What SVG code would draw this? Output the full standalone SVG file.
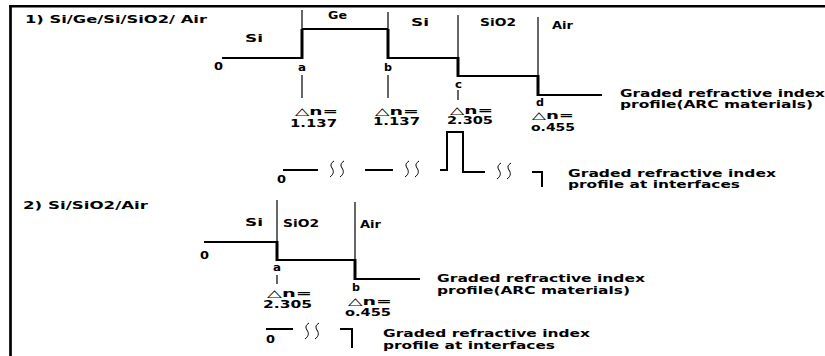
<svg xmlns="http://www.w3.org/2000/svg" width="825" height="356" viewBox="0 0 825 356">
<style>
text{font-family:"DejaVu Sans","Liberation Sans",sans-serif;font-weight:bold;font-size:10px;fill:#000}
.lv{stroke:#000;stroke-width:2;fill:none}
.th{stroke:#000;stroke-width:1.2;fill:none}
.tk{stroke:#000;stroke-width:3;fill:none}
.sq{stroke:#000;stroke-width:1;fill:none}
</style>
<defs>
<path id="sq" class="sq" d="M4 0 C1 2 0 4 2 7 C4 10 4 13 0 16"/>
</defs>
<rect x="0" y="0" width="825" height="356" fill="#fff"/>
<g id="frame">
<line x1="9" y1="6.2" x2="825" y2="6.2" stroke="#000" stroke-width="2.6"/>
<line x1="10.5" y1="5" x2="10.5" y2="356" stroke="#000" stroke-width="2.7"/>
</g>

<g id="profile1">
<text x="25" y="23" textLength="182" lengthAdjust="spacingAndGlyphs">1) Si/Ge/Si/SiO2/ Air</text>
<polyline class="lv" points="222,58 302,58"/>
<line class="th" x1="302" y1="10" x2="302" y2="29"/>
<line class="tk" x1="302" y1="29" x2="302" y2="59"/>
<polyline class="lv" points="302,29 388,29"/>
<line class="th" x1="388" y1="12" x2="388" y2="29"/>
<line class="tk" x1="388" y1="29" x2="388" y2="59"/>
<polyline class="lv" points="388,58 458,58"/>
<line class="th" x1="458" y1="15" x2="458" y2="58"/>
<line class="tk" x1="458" y1="57" x2="458" y2="77"/>
<polyline class="lv" points="458,76 538,76"/>
<line class="th" x1="538" y1="17" x2="538" y2="76"/>
<line class="tk" x1="538" y1="75" x2="538" y2="96"/>
<polyline class="lv" points="538,95 602,95"/>
<text x="245" y="42" textLength="18" lengthAdjust="spacingAndGlyphs">Si</text>
<text x="328" y="19" textLength="19" lengthAdjust="spacingAndGlyphs">Ge</text>
<text x="411" y="26" textLength="18" lengthAdjust="spacingAndGlyphs">Si</text>
<text x="480" y="26" textLength="36" lengthAdjust="spacingAndGlyphs">SiO2</text>
<text x="552" y="29" textLength="21" lengthAdjust="spacingAndGlyphs">Air</text>
<text x="214" y="70" textLength="9" lengthAdjust="spacingAndGlyphs">0</text>
<text x="298" y="71" textLength="8" lengthAdjust="spacingAndGlyphs">a</text>
<text x="384" y="71" textLength="8" lengthAdjust="spacingAndGlyphs">b</text>
<text x="455" y="88" textLength="7" lengthAdjust="spacingAndGlyphs">c</text>
<text x="536" y="106" textLength="8" lengthAdjust="spacingAndGlyphs">d</text>
<text x="295" y="115" textLength="43" lengthAdjust="spacingAndGlyphs">△n=</text>
<text x="290" y="127" textLength="47" lengthAdjust="spacingAndGlyphs">1.137</text>
<text x="375" y="115" textLength="44" lengthAdjust="spacingAndGlyphs">△n=</text>
<text x="373" y="125" textLength="47" lengthAdjust="spacingAndGlyphs">1.137</text>
<text x="450" y="114" textLength="43" lengthAdjust="spacingAndGlyphs">△n=</text>
<text x="447" y="124" textLength="46" lengthAdjust="spacingAndGlyphs">2.305</text>
<text x="532" y="119" textLength="42" lengthAdjust="spacingAndGlyphs">△n=</text>
<text x="531" y="131" textLength="44" lengthAdjust="spacingAndGlyphs">o.455</text>
<text x="620" y="97" textLength="205" lengthAdjust="spacingAndGlyphs">Graded refractive index</text>
<text x="620" y="108" textLength="193" lengthAdjust="spacingAndGlyphs">profile(ARC materials)</text>
</g>

<g id="interfaces1">
<text x="277" y="183" textLength="9" lengthAdjust="spacingAndGlyphs">0</text>
<line class="lv" x1="283" y1="170" x2="318" y2="170"/>
<use href="#sq" x="330" y="161"/>
<use href="#sq" x="340" y="161"/>
<line class="lv" x1="365" y1="170" x2="393" y2="170"/>
<use href="#sq" x="405" y="161"/>
<use href="#sq" x="415" y="161"/>
<polyline class="lv" points="440,170 447,170 447,132 463,132 463,172 485,172" stroke-width="2.5"/>
<use href="#sq" x="497" y="163"/>
<use href="#sq" x="507" y="163"/>
<polyline class="lv" points="532,172 542,172 542,187" stroke-width="2.5"/>
<text x="568" y="177" textLength="208" lengthAdjust="spacingAndGlyphs">Graded refractive index</text>
<text x="568" y="188" textLength="172" lengthAdjust="spacingAndGlyphs">profile at interfaces</text>
</g>

<g id="profile2">
<text x="23" y="209" textLength="125" lengthAdjust="spacingAndGlyphs">2) Si/SiO2/Air</text>
<line class="lv" x1="204" y1="242" x2="277" y2="242"/>
<line class="th" x1="277" y1="200" x2="277" y2="242"/>
<line class="tk" x1="277" y1="241" x2="277" y2="261"/>
<line class="lv" x1="277" y1="260" x2="355" y2="260"/>
<line class="th" x1="355" y1="202" x2="355" y2="260"/>
<line class="tk" x1="355" y1="259" x2="355" y2="280"/>
<line class="lv" x1="355" y1="279" x2="420" y2="279"/>
<text x="245" y="226" textLength="18" lengthAdjust="spacingAndGlyphs">Si</text>
<text x="283" y="227" textLength="36" lengthAdjust="spacingAndGlyphs">SiO2</text>
<text x="360" y="228" textLength="21" lengthAdjust="spacingAndGlyphs">Air</text>
<text x="200" y="259" textLength="9" lengthAdjust="spacingAndGlyphs">0</text>
<text x="273" y="271" textLength="8" lengthAdjust="spacingAndGlyphs">a</text>
<text x="352" y="291" textLength="8" lengthAdjust="spacingAndGlyphs">b</text>
<text x="267" y="297" textLength="45" lengthAdjust="spacingAndGlyphs">△n=</text>
<text x="263" y="308" textLength="49" lengthAdjust="spacingAndGlyphs">2.305</text>
<text x="348" y="305" textLength="44" lengthAdjust="spacingAndGlyphs">△n=</text>
<text x="345" y="316" textLength="46" lengthAdjust="spacingAndGlyphs">o.455</text>
<text x="437" y="282" textLength="208" lengthAdjust="spacingAndGlyphs">Graded refractive index</text>
<text x="437" y="294" textLength="193" lengthAdjust="spacingAndGlyphs">profile(ARC materials)</text>
</g>

<g id="interfaces2">
<text x="266" y="343" textLength="9" lengthAdjust="spacingAndGlyphs">0</text>
<line class="lv" x1="266" y1="329" x2="293" y2="329"/>
<use href="#sq" x="305" y="323"/>
<use href="#sq" x="315" y="323"/>
<polyline class="lv" points="340,329 352,329 352,348" stroke-width="2.5"/>
<text x="383" y="337" textLength="207" lengthAdjust="spacingAndGlyphs">Graded refractive index</text>
<text x="383" y="349" textLength="172" lengthAdjust="spacingAndGlyphs">profile at interfaces</text>
</g>

<g id="connectors">
<line class="th" x1="302" y1="75" x2="302" y2="98"/>
<line class="th" x1="388" y1="75" x2="388" y2="98"/>
<line class="th" x1="458" y1="90" x2="458" y2="100"/>
<line class="th" x1="277" y1="275" x2="277" y2="284"/>
</g>
</svg>
